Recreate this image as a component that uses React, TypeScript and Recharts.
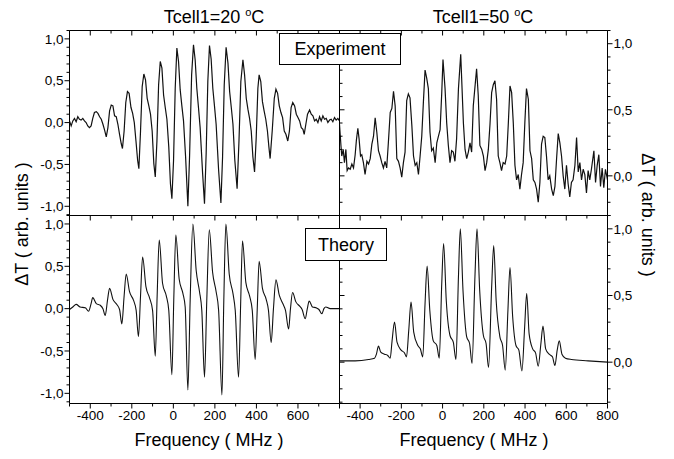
import { LineChart, Line, XAxis, YAxis } from 'recharts';

const FONT = '"Liberation Sans", Arial, Helvetica, sans-serif';
const INK = '#000';

// ---- data (frequency in MHz, signal in arb. units) ----

// Experiment, Tcell1 = 20 °C
const expColdFreq = [
  -500, -492, -484, -476, -468, -460, -452, -444, -436, -428,
  -420, -412, -404, -396, -388, -380, -371, -363, -355, -347,
  -339, -331, -323, -315, -307, -299, -291, -283, -275, -267,
  -259, -251, -245, -237, -229, -221, -213, -204, -196, -188,
  -180, -172, -166, -158, -150, -142, -134, -126, -118, -110,
  -102, -94, -87, -79, -71, -63, -55, -47, -39, -31,
  -22, -14, -7, 1, 9, 17, 25, 33, 41, 49,
  59, 70, 78, 88, 97, 105, 113, 121, 129, 141,
  150, 158, 166, 174, 182, 190, 198, 206, 218, 229,
  237, 245, 254, 263, 271, 279, 287, 296, 307, 316,
  325, 335, 343, 351, 359, 367, 375, 383, 391, 399,
  407, 413, 421, 429, 437, 445, 453, 460, 466, 476,
  486, 494, 502, 510, 518, 526, 534, 542, 551, 559,
  567, 575, 584, 592, 600, 608, 616, 624, 630, 638,
  646, 656, 664, 672, 680, 688, 696, 704, 712, 720,
  728, 736, 744, 752, 760, 768, 776, 784, 792, 800,
];
const expColdSignal = [
  0.02, -0.04, 0.02, 0.05, 0.01, 0.07, 0.04, 0.03, 0.05, 0.02,
  0.0, -0.04, -0.06, -0.04, 0.05, 0.12, 0.13, 0.11, 0.07, 0.04,
  -0.02, -0.09, -0.17, -0.06, 0.14, 0.21, 0.2, 0.08, 0.07, -0.02,
  -0.14, -0.25, -0.31, -0.1, 0.24, 0.37, 0.35, 0.18, 0.11, 0.0,
  -0.22, -0.45, -0.55, -0.1, 0.43, 0.58, 0.51, 0.29, 0.2, 0.1,
  -0.1, -0.49, -0.65, -0.22, 0.45, 0.73, 0.65, 0.33, 0.18, 0.04,
  -0.29, -0.73, -0.91, -0.45, 0.41, 0.89, 0.73, 0.39, 0.2, 0.02,
  -0.41, -1.0, -0.41, 0.57, 0.93, 0.75, 0.41, 0.18, -0.06, -0.61,
  -0.97, -0.37, 0.49, 0.92, 0.76, 0.41, 0.2, -0.02, -0.57, -0.96,
  -0.41, 0.45, 0.9, 0.71, 0.37, 0.18, -0.02, -0.45, -0.79, -0.22,
  0.49, 0.75, 0.57, 0.29, 0.16, 0.05, -0.1, -0.41, -0.59, -0.18,
  0.41, 0.57, 0.49, 0.25, 0.14, 0.04, -0.1, -0.29, -0.43, -0.1,
  0.29, 0.4, 0.35, 0.2, 0.12, 0.06, -0.1, -0.14, -0.22, -0.1,
  0.18, 0.24, 0.2, 0.1, 0.06, 0.02, -0.06, -0.08, -0.14, -0.02,
  0.1, 0.15, 0.1, 0.08, 0.02, 0.04, 0.0, 0.07, 0.02, 0.08,
  0.04, 0.05, 0.0, 0.03, 0.04, 0.01, 0.06, 0.03, 0.05, 0.02,
];

// Experiment, Tcell1 = 50 °C
const expHotFreq = [
  -500, -493, -489, -482, -476, -469, -463, -456, -448, -440,
  -432, -424, -418, -411, -405, -398, -392, -384, -376, -367,
  -359, -351, -343, -335, -327, -319, -311, -303, -295, -287,
  -279, -271, -263, -254, -246, -238, -230, -222, -214, -206,
  -198, -190, -182, -174, -166, -158, -149, -141, -133, -125,
  -117, -109, -101, -93, -85, -77, -69, -61, -53, -45,
  -36, -28, -20, -12, -4, 2, 12, 20, 28, 36,
  44, 52, 60, 68, 77, 88, 101, 109, 117, 125,
  133, 141, 149, 165, 173, 181, 190, 198, 206, 214,
  222, 230, 238, 246, 254, 262, 270, 278, 286, 294,
  303, 311, 319, 327, 335, 343, 351, 359, 367, 375,
  383, 391, 399, 407, 416, 424, 432, 440, 448, 456,
  464, 472, 480, 488, 496, 504, 512, 520, 529, 537,
  545, 553, 561, 569, 577, 585, 593, 601, 609, 617,
  625, 633, 642, 650, 658, 666, 674, 682, 690, 698,
  706, 714, 722, 734, 742, 750, 758, 766, 774, 782,
  790, 800,
];
const expHotSignal = [
  0.39, 0.23, 0.15, 0.2, 0.1, 0.2, 0.04, 0.06, 0.05, 0.09,
  0.06, 0.16, 0.27, 0.36, 0.28, 0.15, 0.16, 0.1, 0.01, 0.11,
  0.09, 0.13, 0.24, 0.3, 0.44, 0.33, 0.19, 0.15, 0.1, 0.06,
  0.11, 0.06, 0.25, 0.48, 0.51, 0.64, 0.53, 0.13, 0.11, 0.06,
  -0.01, 0.1, 0.18, 0.57, 0.62, 0.59, 0.38, 0.15, 0.08, 0.1,
  0.01, 0.15, 0.3, 0.56, 0.8, 0.74, 0.66, 0.33, 0.19, 0.21,
  0.1, 0.25, 0.3, 0.35, 0.63, 0.88, 0.66, 0.4, 0.23, 0.1,
  0.19, 0.18, 0.11, 0.28, 0.66, 0.92, 0.4, 0.2, 0.13, 0.18,
  0.25, 0.18, 0.53, 0.81, 0.61, 0.23, 0.2, 0.15, 0.04, 0.1,
  0.2, 0.39, 0.63, 0.69, 0.72, 0.58, 0.15, 0.1, 0.04, 0.1,
  0.09, 0.15, 0.4, 0.68, 0.63, 0.4, 0.08, -0.03, 0.01, -0.1,
  0.01, 0.1, 0.4, 0.66, 0.58, 0.19, 0.13, -0.03, -0.05, -0.1,
  -0.2, -0.05, 0.24, 0.3, 0.29, 0.15, -0.03, 0.0, -0.1, -0.15,
  -0.08, 0.13, 0.32, 0.25, 0.15, 0.0, -0.1, 0.08, -0.06, -0.16,
  -0.05, -0.03, 0.08, 0.29, 0.03, 0.1, -0.03, 0.05, 0.01, -0.13,
  0.04, -0.03, 0.05, 0.19, -0.05, 0.08, 0.16, -0.08, 0.06, -0.09,
  0.05, -0.03,
];

// Theory, Tcell1 = 20 °C
const thColdFreq = [
  -500, -484, -468, -449, -424, -408, -397, -388, -371, -352,
  -339, -328, -317, -307, -291, -272, -259, -248, -237, -227,
  -211, -192, -179, -168, -158, -148, -132, -115, -100, -87,
  -78, -68, -52, -34, -22, -7, 2, 12, 28, 46,
  57, 70, 81, 94, 110, 126, 137, 150, 161, 173,
  189, 206, 218, 234, 243, 253, 269, 287, 298, 314,
  324, 333, 349, 367, 380, 394, 404, 413, 429, 447,
  458, 471, 482, 494, 510, 527, 540, 555, 564, 574,
  590, 608, 620, 635, 645, 654, 670, 688, 701, 715,
  725, 734, 755, 800,
];
const thColdSignal = [
  -0.01, 0.02, 0.05, 0.02, 0.01, -0.03, 0.05, 0.13, 0.06, 0.04,
  0.0, -0.08, 0.1, 0.24, 0.11, 0.05, -0.01, -0.18, 0.15, 0.41,
  0.2, 0.1, -0.02, -0.33, 0.15, 0.61, 0.26, 0.13, -0.02, -0.56,
  0.15, 0.81, 0.3, 0.15, -0.02, -0.78, 0.1, 0.87, 0.35, 0.18,
  0.02, -0.96, 0.1, 1.0, 0.45, 0.2, -0.02, -0.81, 0.1, 0.93,
  0.43, 0.2, -0.02, -1.02, 0.1, 1.0, 0.41, 0.18, -0.02, -0.81,
  0.05, 0.8, 0.31, 0.15, -0.02, -0.6, 0.0, 0.56, 0.24, 0.11,
  -0.02, -0.4, 0.0, 0.34, 0.16, 0.06, -0.02, -0.24, 0.0, 0.19,
  0.08, 0.03, -0.01, -0.12, 0.0, 0.09, 0.02, 0.01, -0.01, -0.06,
  0.0, 0.02, 0.0, 0.0,
];

// Theory, Tcell1 = 50 °C
const thHotFreq = [
  -500, -424, -359, -330, -321, -311, -300, -282, -266, -254,
  -245, -233, -221, -201, -185, -175, -164, -153, -140, -120,
  -108, -96, -85, -75, -62, -45, -28, -16, -4, 5,
  18, 36, 52, 65, 77, 86, 99, 117, 131, 143,
  157, 167, 180, 198, 211, 223, 238, 248, 260, 278,
  291, 304, 317, 327, 340, 356, 370, 385, 398, 408,
  420, 437, 451, 464, 477, 487, 500, 517, 533, 545,
  556, 566, 579, 596, 625, 706, 800,
];
const thHotSignal = [
  0.01, 0.01, 0.02, 0.03, 0.06, 0.12, 0.075, 0.06, 0.05, 0.03,
  0.16, 0.3, 0.15, 0.09, 0.07, 0.04, 0.24, 0.45, 0.225, 0.125,
  0.1, 0.04, 0.44, 0.72, 0.39, 0.16, 0.125, 0.03, 0.59, 0.89,
  0.46, 0.2, 0.15, 0.02, 0.64, 1.0, 0.54, 0.19, 0.14, -0.01,
  0.64, 1.0, 0.54, 0.2, 0.14, -0.04, 0.56, 0.875, 0.46, 0.19,
  0.125, -0.06, 0.39, 0.71, 0.34, 0.125, 0.09, -0.065, 0.26, 0.515,
  0.21, 0.1, 0.07, -0.03, 0.14, 0.27, 0.1, 0.06, 0.04, -0.025,
  0.09, 0.16, 0.06, 0.03, 0.02, 0.01, 0.0,
];

// axis ticks
const xTicks = [-500, -400, -300, -200, -100, 0, 100, 200, 300, 400, 500, 600, 700, 800];
const xLabelsLeft = [-400, -200, 0, 200, 400, 600];
const xLabelsRight = [-400, -200, 0, 200, 400, 600, 800];
const yTicksFull = [
  -1.1, -1.0, -0.9, -0.8, -0.7, -0.6, -0.5, -0.4, -0.3, -0.2, -0.1, 0,
  0.1, 0.2, 0.3, 0.4, 0.5, 0.6, 0.7, 0.8, 0.9, 1.0, 1.1,
];
const yTicksHalf = [-0.3, -0.2, -0.1, 0, 0.1, 0.2, 0.3, 0.4, 0.5, 0.6, 0.7, 0.8, 0.9, 1.0, 1.1];
const yLabelsFull = [-1.0, -0.5, 0, 0.5, 1.0];
const yLabelsHalf = [0, 0.5, 1.0];

// frame geometry (px)
const W = 674;
const H = 459;
const X0 = 69.5;
const XM = 339.5;
const X1 = 607.5;
const Y0 = 30.5;
const YM = 215.5;
const Y1 = 403.5;

const toRows = (f: number[], v: number[]) => f.map((x, i) => ({ f: x, v: v[i] }));
const fmtY = (v: number) => v.toFixed(1).replace('.', ',');
const isHalf = (v: number) => Math.abs(v * 2 - Math.round(v * 2)) < 1e-6;

type Side = 'left' | 'right' | 'top' | 'bottom';
type Mode = 'out' | 'in' | 'none';

// draws one tick (line + optional label) at the axis position
function makeTick(side: Side, pos: number, mode: Mode, labels: number[], major: (v: number) => boolean, fmt: (v: number) => string) {
  return (props: any) => {
    const v = props.payload.value;
    const vertical = side === 'left' || side === 'right';
    const c = vertical ? props.payload.coordinate ?? props.y : props.payload.coordinate ?? props.x;
    if (mode === 'none') return <g />;
    const len = major(v) ? 5 : 3;
    const outSign = side === 'left' || side === 'top' ? -1 : 1;
    const d = (mode === 'out' ? outSign : -outSign) * len;
    const showLabel = labels.some((l) => Math.abs(l - v) < 1e-6);
    const textStyle = { fontFamily: FONT, fontSize: 13.5, fill: INK };
    return (
      <g>
        {vertical ? (
          <line x1={pos} y1={c} x2={pos + d} y2={c} stroke={INK} strokeWidth={1} />
        ) : (
          <line x1={c} y1={pos} x2={c} y2={pos + d} stroke={INK} strokeWidth={1} />
        )}
        {showLabel && side === 'left' && (
          <text x={pos - 6} y={c} dy="0.35em" textAnchor="end" style={textStyle}>{fmt(v)}</text>
        )}
        {showLabel && side === 'right' && (
          <text x={pos + 6} y={c} dy="0.35em" textAnchor="start" style={textStyle}>{fmt(v)}</text>
        )}
        {showLabel && side === 'bottom' && (
          <text x={c} y={pos + 16} textAnchor="middle" style={textStyle}>{fmt(v)}</text>
        )}
      </g>
    );
  };
}

type PanelProps = {
  rows: { f: number; v: number }[];
  box: [number, number, number, number];
  yDomain: [number, number];
  yTicks: number[];
  left: [Mode, number[]];
  right: [Mode, number[]];
  top: Mode;
  bottom: [Mode, number[]];
  curve: 'linear' | 'monotone';
  width: number;
};

function Panel({ rows, box, yDomain, yTicks, left, right, top, bottom, curve, width }: PanelProps) {
  const [x0, y0, x1, y1] = box;
  const xMajor = (v: number) => v % 200 === 0;
  const fmtX = (v: number) => String(v);
  const axisLine = { stroke: INK, strokeWidth: 1 };
  // axes are 1px thick (recharts skips 0-sized axes), so the margins give room for them
  return (
    <div style={{ position: 'absolute', left: 0, top: 0 }}>
      <LineChart width={W} height={H} data={rows}
        margin={{ top: y0 - 1, bottom: H - y1 - 1, left: x0 - 1, right: W - x1 - 1 }}>
        <XAxis xAxisId="b" dataKey="f" type="number" domain={[-500, 800]} allowDataOverflow ticks={xTicks} interval={0}
          orientation="bottom" height={1} axisLine={axisLine} tickLine={false}
          tick={makeTick('bottom', y1, bottom[0], bottom[1], xMajor, fmtX)} />
        <XAxis xAxisId="t" dataKey="f" type="number" domain={[-500, 800]} allowDataOverflow ticks={xTicks} interval={0}
          orientation="top" height={1} axisLine={axisLine} tickLine={false}
          tick={makeTick('top', y0, top, [], xMajor, fmtX)} />
        <YAxis yAxisId="l" type="number" domain={yDomain} allowDataOverflow ticks={yTicks} interval={0}
          orientation="left" width={1} axisLine={axisLine} tickLine={false}
          tick={makeTick('left', x0, left[0], left[1], isHalf, fmtY)} />
        <YAxis yAxisId="r" type="number" domain={yDomain} allowDataOverflow ticks={yTicks} interval={0}
          orientation="right" width={1} axisLine={axisLine} tickLine={false}
          tick={makeTick('right', x1, right[0], right[1], isHalf, fmtY)} />
        <Line xAxisId="b" yAxisId="l" dataKey="v" type={curve} stroke="#111" strokeWidth={width}
          dot={false} activeDot={false} isAnimationActive={false} />
      </LineChart>
    </div>
  );
}

const textBase = { position: 'absolute' as const, fontFamily: FONT, color: INK, whiteSpace: 'nowrap' as const, lineHeight: 1 };

export default function App() {
  return (
    <div style={{ position: 'absolute', left: 0, top: 0, width: W, height: H, background: '#fff', overflow: 'hidden' }}>
      <Panel rows={toRows(expColdFreq, expColdSignal)} box={[X0, Y0, XM, YM]} yDomain={[-1.11, 1.1]} yTicks={yTicksFull}
        left={['out', yLabelsFull]} right={['none', []]} top="in" bottom={['none', []]} curve="linear" width={1.2} />
      <Panel rows={toRows(expHotFreq, expHotSignal)} box={[XM, Y0, X1, YM]} yDomain={[-0.3, 1.1]} yTicks={yTicksHalf}
        left={['in', []]} right={['out', yLabelsHalf]} top="in" bottom={['none', []]} curve="linear" width={1.2} />
      <Panel rows={toRows(thColdFreq, thColdSignal)} box={[X0, YM, XM, Y1]} yDomain={[-1.12, 1.1]} yTicks={yTicksFull}
        left={['out', yLabelsFull]} right={['none', []]} top="in" bottom={['out', xLabelsLeft]} curve="monotone" width={1.1} />
      <Panel rows={toRows(thHotFreq, thHotSignal)} box={[XM, YM, X1, Y1]} yDomain={[-0.31, 1.1]} yTicks={yTicksHalf}
        left={['in', []]} right={['out', yLabelsHalf]} top="in" bottom={['out', xLabelsRight]} curve="monotone" width={1.1} />

      <div style={{ ...textBase, left: 214, top: 16, fontSize: 18, transform: 'translate(-50%, -50%)' }}>
        Tcell1=20 <sup style={{ fontSize: 11 }}>o</sup>C
      </div>
      <div style={{ ...textBase, left: 483, top: 16, fontSize: 18, transform: 'translate(-50%, -50%)' }}>
        Tcell1=50 <sup style={{ fontSize: 11 }}>o</sup>C
      </div>

      <div style={{ ...textBase, left: 279, top: 33, width: 120, height: 30, border: `1px solid ${INK}`, background: '#fff',
        fontSize: 18, display: 'flex', alignItems: 'center', justifyContent: 'center' }}>Experiment</div>
      <div style={{ ...textBase, left: 305, top: 228, width: 80, height: 31, border: `1px solid ${INK}`, background: '#fff',
        fontSize: 18, display: 'flex', alignItems: 'center', justifyContent: 'center' }}>Theory</div>

      <div style={{ ...textBase, left: 22, top: 224, fontSize: 18, transform: 'translate(-50%, -50%) rotate(-90deg)' }}>
        ΔT ( arb. units )
      </div>
      <div style={{ ...textBase, left: 648, top: 215, fontSize: 18, transform: 'translate(-50%, -50%) rotate(90deg)' }}>
        ΔT ( arb. units )
      </div>

      <div style={{ ...textBase, left: 209, top: 440, fontSize: 18, transform: 'translate(-50%, -50%)' }}>Frequency ( MHz )</div>
      <div style={{ ...textBase, left: 474, top: 440, fontSize: 18, transform: 'translate(-50%, -50%)' }}>Frequency ( MHz )</div>
    </div>
  );
}
